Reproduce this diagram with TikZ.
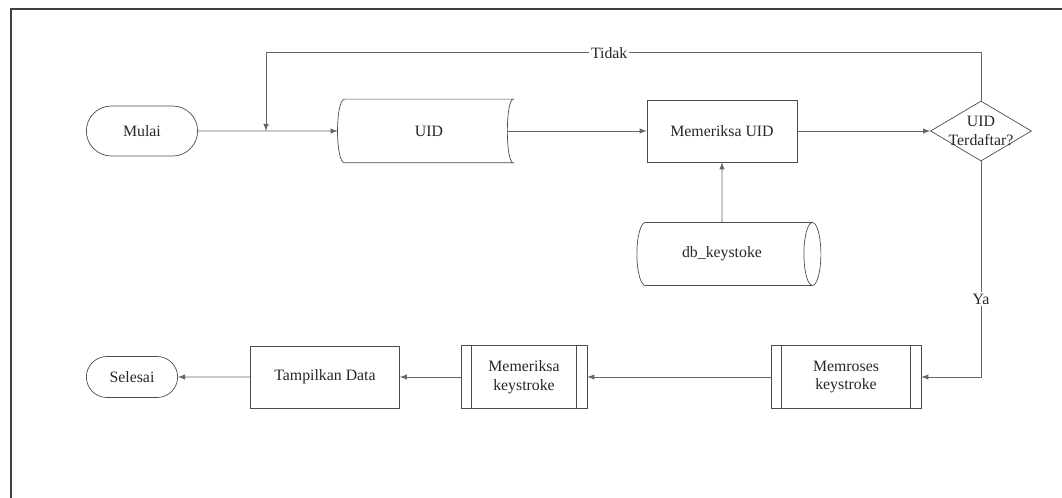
\documentclass[tikz,border=0pt]{standalone}
\usepackage{fontspec}
\setmainfont{Liberation Serif}
\newfontfamily\huruf{Liberation Serif}
\usetikzlibrary{arrows,shapes,positioning}
\tikzset{
  basic/.style      = {draw=black!70, thin, font=\huruf\fontsize{9}{10.5}\selectfont, text=black!85, align=center},
  terminal/.style   = {basic, rounded rectangle, minimum width=2.46cm, minimum height=1cm},
  proses/.style     = {basic, rectangle, minimum width=3cm, minimum height=1.24cm},
  data/.style       = {font=\huruf\fontsize{9}{10.5}\selectfont, text=black!85, minimum width=3.36cm, minimum height=1.26cm},
  keputusan/.style  = {basic, diamond, aspect=1.68, inner sep=-4pt, minimum width=2.02cm, minimum height=1.2cm},
  penyimpanan/.style = {basic, cylinder, shape aspect=0.65, minimum width=1.26cm, minimum height=3.68cm},
  subproses/.style  = {basic, rectangle, minimum height=1.26cm},
  garis/.style      = {draw=black!60, thin},
  ket/.style        = {font=\huruf\fontsize{9}{10.5}\selectfont, text=black!85, fill=white, inner sep=1pt}
}

\begin{document}
\begin{tikzpicture}[>=latex]
\useasboundingbox (0,0) rectangle (21.24,-9.96);
% bingkai
\draw[black!75, line width=1.2pt] (0.22,-9.96) |- (21.24,-0.18);

% baris atas
\node[terminal] (mulai) at (2.84,-2.62) {Mulai};
\node[data, right of = mulai, node distance=5.74cm] (uid) {UID};
\node[proses, right of = uid, node distance=5.86cm] (periksa) {Memeriksa UID};
\node[keputusan, right of = periksa, node distance=5.18cm] (cek) {UID\\Terdaftar?};
\node[penyimpanan, below of = periksa, node distance=2.46cm] (db) {db\_keystoke};
\coordinate[right of = mulai, node distance=2.48cm] (gabung);

% bentuk data tersimpan untuk UID
\draw[black!70, thin] (uid.north west)
  .. controls ([xshift=-0.19cm]uid.north west) and ([xshift=-0.19cm]uid.south west) .. (uid.south west)
  -- (uid.south east)
  .. controls ([xshift=-0.16cm]uid.south east) and ([xshift=-0.16cm]uid.north east) .. (uid.north east)
  -- cycle;

% baris bawah
\node[subproses, minimum width=3cm, below of = cek, node distance=4.92cm, xshift=-2.7cm] (memroses) {Memroses\\keystroke};
\node[subproses, minimum width=2.52cm, left of = memroses, node distance=6.44cm] (memeriksa) {Memeriksa\\keystroke};
\node[proses, minimum width=2.98cm, left of = memeriksa, node distance=3.98cm] (tampil) {Tampilkan Data};
\node[terminal, minimum width=2.06cm, minimum height=0.82cm, left of = tampil, node distance=3.86cm] (selesai) {Selesai};

\foreach \n in {memroses,memeriksa}
  \draw[black!70, thin] ([xshift=0.22cm]\n.north west) -- ([xshift=0.22cm]\n.south west)
    ([xshift=-0.22cm]\n.north east) -- ([xshift=-0.22cm]\n.south east);

% garis penghubung
\draw[garis, ->] (mulai) -- ([xshift=-0.14cm]uid.west);
\draw[garis, ->] ([xshift=-0.12cm]uid.east) -- (periksa);
\draw[garis, ->] (periksa) -- (cek);
\draw[garis, ->] (db) -- (periksa);
\draw[garis, ->] (cek.north) -- ++(0,0.96) -| node[ket, pos=0.26] {Tidak} (gabung);
\draw[garis, ->] (cek.south) |- node[ket, pos=0.32] {Ya} (memroses.east);
\draw[garis, ->] (memroses) -- (memeriksa);
\draw[garis, ->] (memeriksa) -- (tampil);
\draw[garis, ->] (tampil) -- (selesai);
\end{tikzpicture}
\end{document}
